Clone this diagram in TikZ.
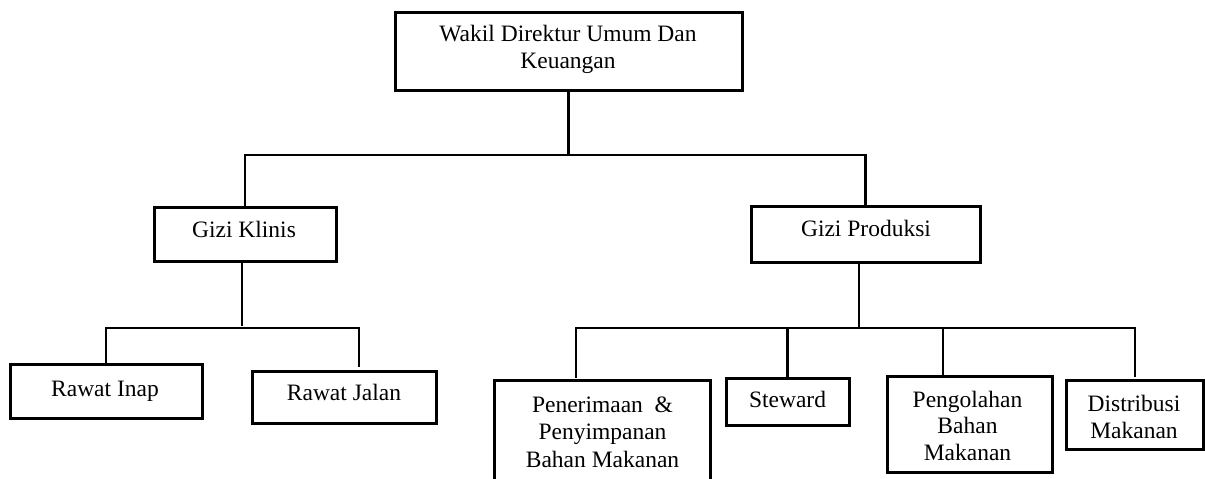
\documentclass[tikz,border=0pt]{standalone}
\usepackage{fontspec}
\setmainfont{Liberation Serif}
\begin{document}
\begin{tikzpicture}[x=1pt,y=-1pt,
  box/.style={draw, rectangle, line width=3pt, inner sep=0pt},
  txt/.style={anchor=base, align=center, inner sep=0pt,
    font=\fontsize{23.5}{26.5}\selectfont},
  link/.style={draw, line width=2.8pt}]
\useasboundingbox (0,0) rectangle (1205,479);
\fill[white] (0,0) rectangle (1205,479);
\begin{scope}
\clip (0,0) rectangle (1205,479);
% boxes
\node[box, minimum width=347, minimum height=78] (top) at (568.5,51) {};
\node[box, minimum width=182, minimum height=54] (klinis) at (245,234) {};
\node[box, minimum width=229, minimum height=56] (produksi) at (865.5,234) {};
\node[box, minimum width=192, minimum height=54] (inap) at (106,391) {};
\node[box, minimum width=184, minimum height=52] (jalan) at (344,397) {};
\node[box, minimum width=216, minimum height=104] (pen) at (602,432) {};
\node[box, minimum width=123, minimum height=47] (stew) at (787.5,401.5) {};
\node[box, minimum width=165, minimum height=96] (peng) at (969.5,424) {};
\node[box, minimum width=137, minimum height=69] (dist) at (1134.5,414.5) {};
% texts (anchor = baseline of the last line)
\node[txt] (topT) at (568,68) {Wakil Direktur Umum Dan\\Keuangan};
\node[txt] (klinisT) at (244,237) {Gizi Klinis};
\node[txt] (produksiT) at (866,236) {Gizi Produksi};
\node[txt] (inapT) at (105,396) {Rawat Inap};
\node[txt] (jalanT) at (344,400) {Rawat Jalan};
\node[txt, font=\fontsize{23.5}{27.5}\selectfont] (penT) at (602.5,467) {Penerimaan \ \&\\Penyimpanan\\Bahan Makanan};
\node[txt] (stewT) at (787.5,407) {Steward};
\node[txt] (pengT) at (967.5,460) {Pengolahan\\Bahan\\Makanan};
\node[txt] (distT) at (1134,438) {Distribusi\\Makanan};

% connectors
\coordinate (h0) at (0,155);
\coordinate (j0) at (top.south |- h0);
\draw[link] (top.south) -- (j0);
\draw[link] (klinis.north) |- (j0);
\draw[link] (produksi.north) |- (j0);

\coordinate (j1) at (242,328);
\coordinate (jalanC) at (359,367);
\draw[link] (j1 |- klinis.south) -- ([yshift=2pt]j1);
\draw[link] (inap.north) |- (j1) -| (jalanC);

\coordinate (j2) at (859,328);
\coordinate (penC) at (576,378);
\coordinate (pengC) at (943,376);
\coordinate (distC) at (1135,377);
\draw[link] (j2 |- produksi.south) -- (j2);
\draw[link] (penC) |- (j2) -| (distC);
\draw[link] (stew.north |- j2) -- (stew.north);
\draw[link] (pengC |- j2) -- (pengC);
\end{scope}
\end{tikzpicture}
\end{document}
